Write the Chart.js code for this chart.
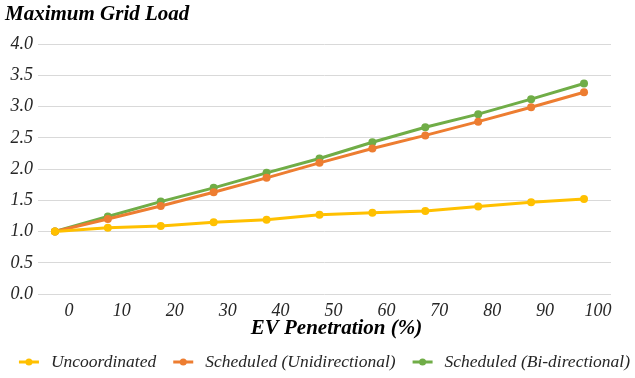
<!DOCTYPE html>
<html>
<head>
<meta charset="utf-8">
<script src="https://cdn.jsdelivr.net/npm/chart.js@4/dist/chart.umd.min.js"></script>
<style>
  html, body { margin: 0; padding: 0; background: #ffffff; }
  #wrap { width: 635px; height: 378px; position: relative; }
</style>
</head>
<body>
<div id="wrap"><canvas id="chart" width="635" height="378"></canvas></div>
<script>
// EV penetration levels (%)
const penetration = [0, 10, 20, 30, 40, 50, 60, 70, 80, 90, 100];
// Maximum grid load for each charging strategy
const uncoordinated = [1.00, 1.06, 1.09, 1.15, 1.19, 1.27, 1.30, 1.33, 1.40, 1.47, 1.52];
const unidirectional = [1.00, 1.20, 1.41, 1.63, 1.86, 2.10, 2.33, 2.54, 2.76, 2.99, 3.23];
const bidirectional = [1.00, 1.24, 1.48, 1.70, 1.94, 2.17, 2.43, 2.67, 2.88, 3.12, 3.37];
const seriesNames = ['Uncoordinated', 'Scheduled (Unidirectional)', 'Scheduled (Bi-directional)'];
const yTicks = [0, 0.5, 1, 1.5, 2, 2.5, 3, 3.5, 4];

const colors = ['#FFC000', '#ED7D31', '#70AD47'];
const serif = "'Liberation Serif', 'Times New Roman', serif";
const textColor = '#262626';

// every text in this chart is set in italic serif
Chart.defaults.font.family = serif;
Chart.defaults.font.style = 'italic';

function toPoints(values) {
  return penetration.map((p, i) => ({ x: p, y: values[i] }));
}

const seriesData = [uncoordinated, unidirectional, bidirectional];
const datasets = seriesData.map((vals, i) => ({
  label: seriesNames[i],
  data: toPoints(vals),
  borderColor: colors[i],
  backgroundColor: colors[i],
  borderWidth: 3,
  pointRadius: 4,
  pointHoverRadius: 4,
  pointBorderWidth: 0,
  tension: 0
}));

// Axis title under the x ticks and a single-row legend below it
const bottomTexts = {
  id: 'bottomTexts',
  afterDraw(chart) {
    const ctx = chart.ctx;
    const area = chart.chartArea;
    const mid = (area.left + area.right) / 2;
    ctx.save();
    ctx.textBaseline = 'middle';

    ctx.font = "italic bold 21px " + serif;
    ctx.fillStyle = '#000000';
    ctx.textAlign = 'center';
    ctx.fillText('EV Penetration (%)', mid + 12, area.bottom + 35);

    ctx.font = "italic 17.5px " + serif;
    const markW = 20, gap = 12, spacing = 17;
    const items = chart.data.datasets.map(ds => ({
      label: ds.label, color: ds.borderColor, w: ctx.measureText(ds.label).width
    }));
    const total = items.reduce((s, it) => s + markW + gap + it.w, 0) + spacing * (items.length - 1);
    let x = mid - total / 2;
    const y = area.bottom + 68;
    ctx.textAlign = 'left';
    items.forEach(it => {
      ctx.strokeStyle = it.color;
      ctx.lineWidth = 3;
      ctx.beginPath();
      ctx.moveTo(x, y);
      ctx.lineTo(x + markW, y);
      ctx.stroke();
      ctx.fillStyle = it.color;
      ctx.beginPath();
      ctx.arc(x + markW / 2, y, 3.5, 0, Math.PI * 2);
      ctx.fill();
      ctx.fillStyle = textColor;
      ctx.fillText(it.label, x + markW + gap, y);
      x += markW + gap + it.w + spacing;
    });
    ctx.restore();
  }
};

new Chart(document.getElementById('chart'), {
  type: 'line',
  data: { datasets },
  plugins: [bottomTexts],
  options: {
    responsive: false,
    animation: false,
    layout: { padding: { left: 5, right: 24, top: 0, bottom: 58 } },
    plugins: {
      tooltip: { enabled: false },
      legend: { display: false },
      title: {
        display: true,
        text: 'Maximum Grid Load',
        align: 'start',
        color: '#000000',
        font: { family: serif, size: 21, style: 'italic', weight: 'bold', lineHeight: 1.2 },
        padding: { top: 2, bottom: 17 }
      }
    },
    scales: {
      x: {
        type: 'linear',
        min: -3.2,
        max: 105.1,
        afterBuildTicks(scale) {
          scale.ticks = penetration.map(v => ({ value: v }));
        },
        afterFit(scale) { scale.height = 26; },
        grid: { display: false, drawTicks: false },
        border: { display: false },
        ticks: {
          color: textColor,
          font: { family: serif, size: 18, style: 'italic', lineHeight: 1.0 },
          labelOffset: 14,
          padding: 8,
          maxRotation: 0,
          autoSkip: false,
          callback: v => String(v)
        }
      },
      y: {
        min: 0,
        max: 4,
        afterBuildTicks(scale) {
          scale.ticks = yTicks.map(v => ({ value: v }));
        },
        afterFit(scale) { scale.width = 33; },
        grid: { color: '#D9D9D9', lineWidth: 1, drawTicks: false },
        border: { display: false },
        ticks: {
          color: textColor,
          font: { family: serif, size: 18, style: 'italic' },
          padding: 5,
          callback: v => Number(v).toFixed(1)
        }
      }
    }
  }
});
</script>
</body>
</html>
